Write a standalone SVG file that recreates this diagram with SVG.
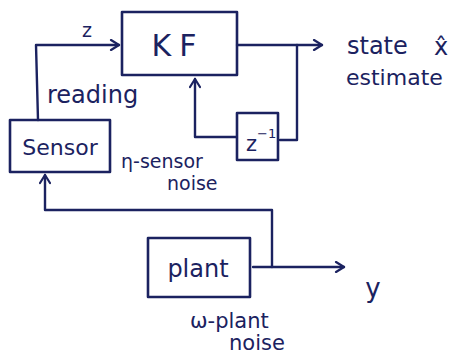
<svg xmlns="http://www.w3.org/2000/svg" width="461" height="356" viewBox="0 0 461 356">
<defs>
<style>
.box{fill:none;stroke:#1b2260;stroke-width:2.6;stroke-linejoin:round}
.ln{fill:none;stroke:#1b2260;stroke-width:2.4;stroke-linejoin:round;stroke-linecap:round}
.t{font-family:"DejaVu Sans","Liberation Sans",sans-serif;fill:#1b2260}
</style>
<marker id="ah" viewBox="0 0 12 12" refX="10" refY="6" markerWidth="12" markerHeight="12" markerUnits="userSpaceOnUse" orient="auto">
<path d="M2,1 L10,6 L2,11" fill="none" stroke="#1b2260" stroke-width="2.2" stroke-linecap="round" stroke-linejoin="round"/>
</marker>
</defs>
<rect width="461" height="356" fill="#ffffff"/>
<g id="connectors">
<path class="ln" d="M38,120 L36,45 L119,45" marker-end="url(#ah)"/>
<path class="ln" d="M237,45 L322,45" marker-end="url(#ah)"/>
<path class="ln" d="M297,45 L297,140 L280,140"/>
<path class="ln" d="M236,137 L195,137 L195,79" marker-end="url(#ah)"/>
<path class="ln" d="M272,267 L272,210 L45,210 L45,175" marker-end="url(#ah)"/>
<path class="ln" d="M253,267 L344,267" marker-end="url(#ah)"/>
</g>
<g id="kf">
<rect class="box" x="122" y="12" width="115" height="63"/>
<text class="t" x="178" y="56" font-size="30" text-anchor="middle" letter-spacing="8">KF</text>
</g>
<g id="sensor">
<rect class="box" x="10" y="120" width="100" height="52"/>
<text class="t" x="60" y="155" font-size="22" text-anchor="middle">Sensor</text>
</g>
<g id="delay">
<rect class="box" x="237" y="113" width="41" height="47"/>
<text class="t" x="246" y="151" font-size="21">z<tspan font-size="13" dy="-13">−1</tspan></text>
</g>
<g id="plant">
<rect class="box" x="148" y="238" width="102" height="59"/>
<text class="t" x="198" y="277" font-size="24" text-anchor="middle">plant</text>
</g>
<g id="labels">
<text class="t" x="87" y="37" font-size="19" text-anchor="middle">z</text>
<text class="t" x="47" y="103" font-size="24">reading</text>
<text class="t" x="121" y="168" font-size="19">η-sensor</text>
<text class="t" x="167" y="190" font-size="19">noise</text>
<text class="t" x="347" y="54" font-size="24">state</text>
<text class="t" x="441" y="55" font-size="24" text-anchor="middle">x̂</text>
<text class="t" x="346" y="85" font-size="22">estimate</text>
<text class="t" x="373" y="297" font-size="26" text-anchor="middle">y</text>
<text class="t" x="190" y="328" font-size="21">ω-plant</text>
<text class="t" x="229" y="350" font-size="21">noise</text>
</g>
</svg>
